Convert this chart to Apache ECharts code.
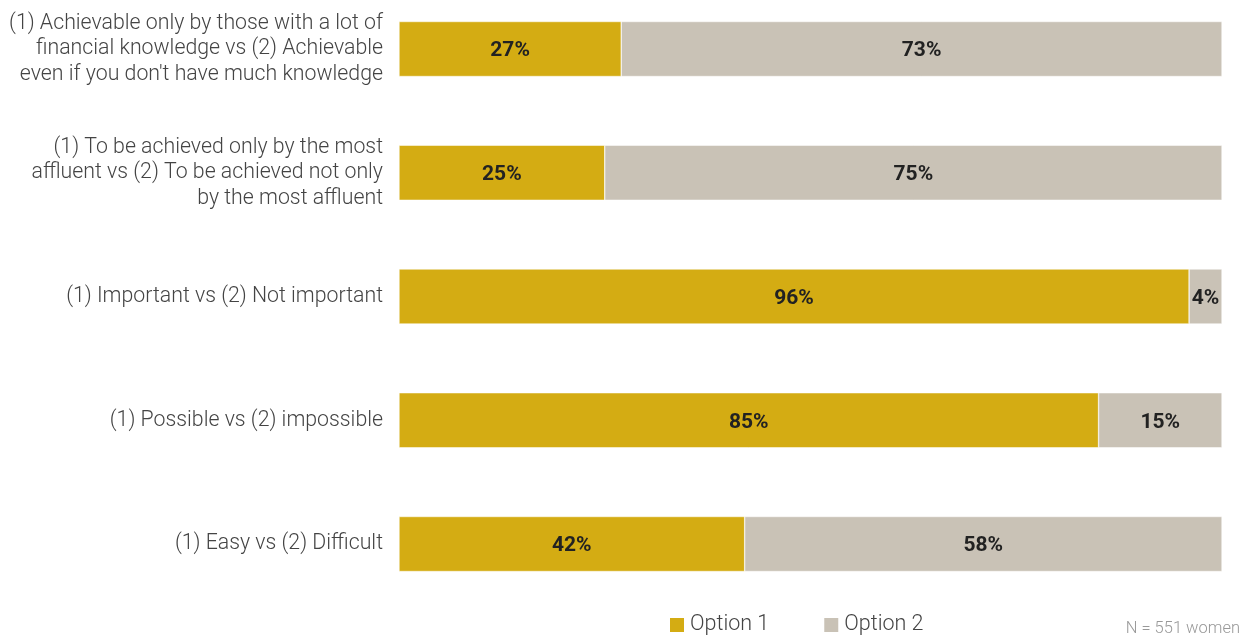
<!DOCTYPE html>
<html><head><meta charset="utf-8">
<script src="https://cdn.jsdelivr.net/npm/echarts@6/dist/echarts.min.js"></script>
<style>html,body{margin:0;padding:0;background:#fff}#c{width:1242px;height:635px}</style>
</head><body><div id="c"></div>
<script>
const categories = [
  "(1) Achievable only by those with a lot of\nfinancial knowledge vs (2) Achievable\neven if you don't have much knowledge",
  "(1) To be achieved only by the most\naffluent vs (2) To be achieved not only\nby the most affluent",
  "(1) Important vs (2) Not important",
  "(1) Possible vs (2) impossible",
  "(1) Easy vs (2) Difficult"
];
const option1 = [27, 25, 96, 85, 42];
const option2 = [73, 75, 4, 15, 58];
const seriesNames = ["Option 1", "Option 2"];
const note = "N = 551 women";

const chart = echarts.init(document.getElementById('c'));
const lbl = {show:true, position:'inside', offset:[0,2], formatter:'{c}%', color:'#222', fontFamily:'Roboto', fontWeight:'bold', fontSize:21};
chart.setOption({
  animation:false,
  grid:{left:399, right:20, top:49, bottom:91, containLabel:false},
  xAxis:{type:'value', min:0, max:100, show:false},
  yAxis:{type:'category', data:categories, inverse:true, boundaryGap:false,
    axisLine:{show:false}, axisTick:{show:false}, splitLine:{show:false},
    axisLabel:{margin:16, color:'#444', fontFamily:'Roboto', fontWeight:300, fontSize:21.3, lineHeight:25.5, align:'right', padding:[5,0,0,0]}},
  legend:{bottom:-6, left:663, itemWidth:16, itemHeight:16, itemGap:53, icon:'rect',
    textStyle:{color:'#444', fontFamily:'Roboto', fontWeight:300, fontSize:21.5}},
  graphic:[{type:'text', right:2, bottom:-2, style:{text:note, fill:'#999', font:'300 16.5px Roboto'}}],
  series:[
    {name:seriesNames[0], type:'bar', stack:'a', data:option1, barWidth:55, itemStyle:{color:'#D4AC13', borderColor:'#fff', borderWidth:0.5}, label:lbl},
    {name:seriesNames[1], type:'bar', stack:'a', data:option2, barWidth:55, itemStyle:{color:'#C9C2B6', borderColor:'#fff', borderWidth:0.5}, label:lbl}
  ]
});
</script></body></html>
